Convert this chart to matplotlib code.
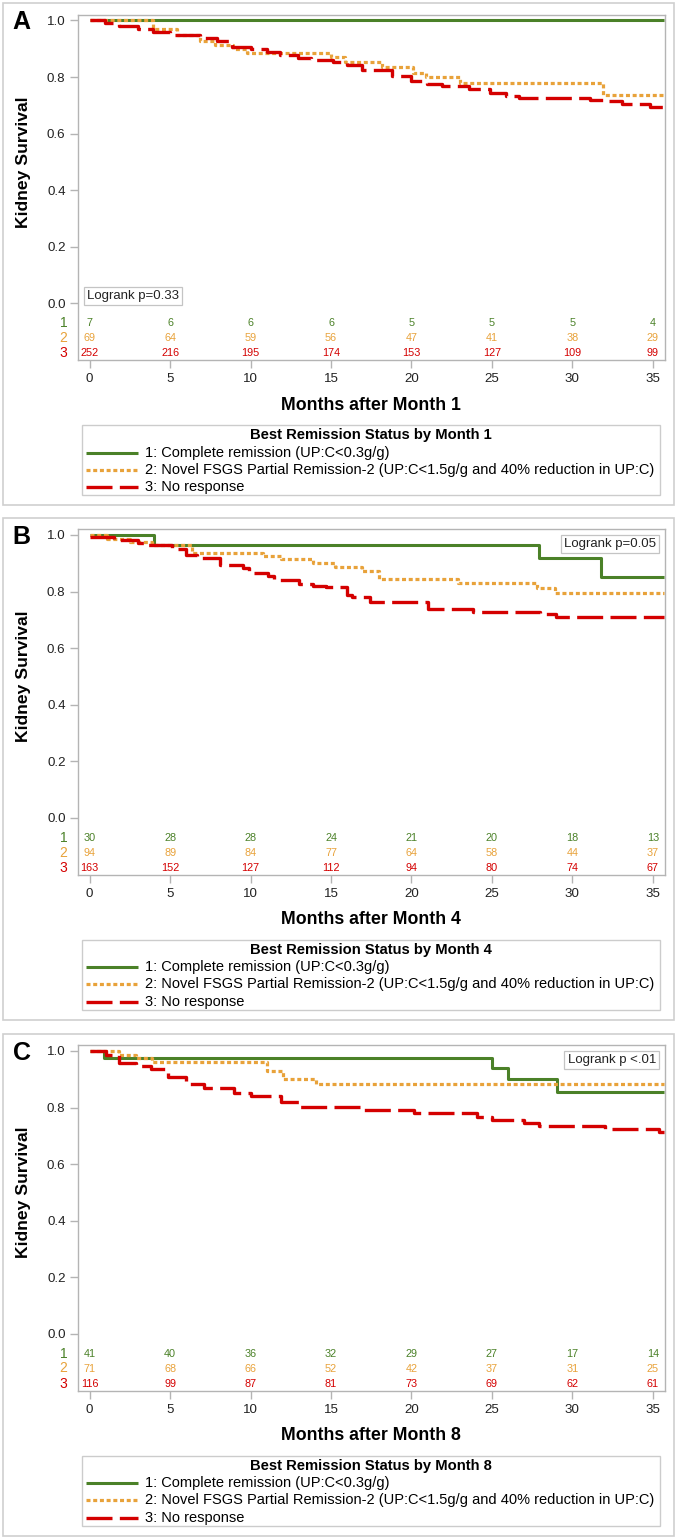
import matplotlib
matplotlib.use('Agg')
import matplotlib.pyplot as plt
from matplotlib.lines import Line2D
from matplotlib.patches import Rectangle

plt.rcParams['font.family'] = ['Liberation Sans', 'DejaVu Sans']

# ---------------- data ----------------
panel_letters = ['A', 'B', 'C']
month_labels = ['Months after Month 1', 'Months after Month 4', 'Months after Month 8']
legend_titles = ['Best Remission Status by Month 1', 'Best Remission Status by Month 4',
                 'Best Remission Status by Month 8']
logrank_texts = ['Logrank p=0.33', 'Logrank p=0.05', 'Logrank p <.01']
group_ids = ['1', '2', '3']
group_names = ['1: Complete remission (UP:C<0.3g/g)',
               '2: Novel FSGS Partial Remission-2 (UP:C<1.5g/g and 40% reduction in UP:C)',
               '3: No response']
risk_times = [0, 5, 10, 15, 20, 25, 30, 35]
x_ticks = [0, 5, 10, 15, 20, 25, 30, 35]
y_ticks = [0.0, 0.2, 0.4, 0.6, 0.8, 1.0]
t_end = 35.7

# Panel A (Month 1)
A_g1_t = [0]
A_g1_s = [1.0]
A_g2_t = [0, 3.92, 5.4, 6.85, 7.8, 8.9, 9.8, 15.0, 15.9, 18.15, 20.1, 20.9, 23.0, 31.9]
A_g2_s = [1.0, 0.970, 0.947, 0.927, 0.913, 0.898, 0.885, 0.870, 0.852, 0.834, 0.814, 0.800, 0.779, 0.736]
A_g3_t = [0, 0.95, 1.85, 3.0, 3.95, 5.0, 6.85, 7.9, 8.85, 10.05, 11.0, 11.85, 12.95, 13.75, 15.1,
          16.0, 16.9, 18.8, 20.0, 20.95, 21.9, 23.6, 24.9, 25.9, 26.7, 31.1, 32.1, 33.1, 34.8]
A_g3_s = [1.0, 0.991, 0.981, 0.971, 0.959, 0.950, 0.938, 0.927, 0.907, 0.898, 0.887, 0.879, 0.869,
          0.862, 0.852, 0.843, 0.825, 0.805, 0.785, 0.775, 0.767, 0.758, 0.742, 0.732, 0.727, 0.720,
          0.714, 0.706, 0.694]
A_risk1 = [7, 6, 6, 6, 5, 5, 5, 4]
A_risk2 = [69, 64, 59, 56, 47, 41, 38, 29]
A_risk3 = [252, 216, 195, 174, 153, 127, 109, 99]

# Panel B (Month 4)
B_g1_t = [0, 4.0, 27.95, 31.8]
B_g1_s = [1.0, 0.965, 0.918, 0.853]
B_g2_t = [0, 1.06, 2.5, 3.86, 6.34, 10.8, 11.9, 13.9, 15.25, 16.9, 18.0, 22.9, 27.8, 28.9]
B_g2_s = [1.0, 0.985, 0.975, 0.965, 0.935, 0.926, 0.914, 0.900, 0.888, 0.873, 0.843, 0.829, 0.811, 0.796]
B_g3_t = [0, 1.5, 3.0, 3.65, 5.1, 6.0, 6.65, 8.1, 9.55, 9.9, 11.1, 11.45, 13.0, 13.9, 14.7, 16.0,
          16.3, 17.4, 21.0, 23.85, 28.0, 29.0]
B_g3_s = [0.994, 0.982, 0.971, 0.965, 0.949, 0.929, 0.918, 0.894, 0.882, 0.867, 0.855, 0.841, 0.826,
          0.820, 0.815, 0.788, 0.782, 0.764, 0.737, 0.729, 0.719, 0.709]
B_risk1 = [30, 28, 28, 24, 21, 20, 18, 13]
B_risk2 = [94, 89, 84, 77, 64, 58, 44, 37]
B_risk3 = [163, 152, 127, 112, 94, 80, 74, 67]

# Panel C (Month 8)
C_g1_t = [0, 0.87, 25.0, 26.0, 29.05]
C_g1_s = [1.0, 0.974, 0.939, 0.901, 0.854]
C_g2_t = [0, 1.8, 2.9, 3.85, 11.0, 12.0, 14.05]
C_g2_s = [1.0, 0.986, 0.974, 0.961, 0.929, 0.900, 0.882]
C_g3_t = [0, 1.0, 1.8, 2.9, 3.8, 4.9, 6.0, 7.1, 9.0, 10.0, 11.9, 13.0, 17.0, 20.15, 24.1, 25.0,
          27.0, 27.9, 32.0, 35.4]
C_g3_s = [1.0, 0.986, 0.958, 0.948, 0.938, 0.908, 0.882, 0.868, 0.850, 0.841, 0.821, 0.802, 0.792,
          0.780, 0.768, 0.757, 0.745, 0.734, 0.725, 0.712]
C_risk1 = [41, 40, 36, 32, 29, 27, 17, 14]
C_risk2 = [71, 68, 66, 52, 42, 37, 31, 25]
C_risk3 = [116, 99, 87, 81, 73, 69, 62, 61]

panels = [
    ([(A_g1_t, A_g1_s), (A_g2_t, A_g2_s), (A_g3_t, A_g3_s)], [A_risk1, A_risk2, A_risk3]),
    ([(B_g1_t, B_g1_s), (B_g2_t, B_g2_s), (B_g3_t, B_g3_s)], [B_risk1, B_risk2, B_risk3]),
    ([(C_g1_t, C_g1_s), (C_g2_t, C_g2_s), (C_g3_t, C_g3_s)], [C_risk1, C_risk2, C_risk3]),
]

# ---------------- style ----------------
colors = ['#4b8128', '#e8a23a', '#d40000']
W, H, DPI = 677, 1539, 100
offsets = [0.0, 514.5, 1030.5]
logrank_pos = ['left', 'right', 'right']
frame_gray = '#b4b4b4'
text_col = '#222222'


def fx(px):
    return px / W


def fy(py):
    return 1.0 - py / H


def style_line(line, g):
    line.set_color(colors[g])
    line.set_solid_capstyle('butt')
    line.set_dash_capstyle('butt')
    if g == 0:
        line.set_linewidth(2.2)
    elif g == 1:
        line.set_linewidth(2.3)
        line.set_dashes((1.25, 0.85))
    else:
        line.set_linewidth(2.4)
        line.set_dashes((7.8, 2.2))


fig = plt.figure(figsize=(W / DPI, H / DPI), dpi=DPI)

for p, (curves, risks) in enumerate(panels):
    off = offsets[p]
    # outer panel box
    fig.add_artist(Rectangle((fx(3), fy(505 + off)), fx(674) - fx(3), (505 - 3) / H,
                             transform=fig.transFigure, fill=False, ec='#cfcfcf', lw=1.2))
    ax_top, ax_bot = 14.8 + off, 360.1 + off
    ax = fig.add_axes([fx(78), fy(ax_bot), fx(664.5) - fx(78), (ax_bot - ax_top) / H])
    ax.set_xlim(-0.72, 35.72)
    ax.set_ylim(-0.2, 1.02)
    for sp in ax.spines.values():
        sp.set_color(frame_gray)
        sp.set_linewidth(1.0)
    ax.set_xticks(x_ticks)
    ax.set_xticklabels([str(v) for v in x_ticks])
    ax.set_yticks(y_ticks)
    ax.set_yticklabels(['%.1f' % v for v in y_ticks])
    ax.tick_params(axis='both', colors=frame_gray, labelcolor=text_col, labelsize=9.6,
                   length=6, width=1.0, pad=3)
    ax.tick_params(axis='x', pad=3.5)

    for g, (t, s) in enumerate(curves):
        tt = list(t) + [t_end]
        ss = list(s) + [s[-1]]
        line, = ax.step(tt, ss, where='post', zorder=3 + g)
        style_line(line, g)

    # at-risk table
    row_y = [-0.069, -0.122, -0.175]
    for g in range(3):
        for tm, n in zip(risk_times, risks[g]):
            ax.text(tm, row_y[g], str(n), ha='center', va='center', fontsize=7.8,
                    color=colors[g])
        fig.text(fx(63.6), fy(323 + 15 * g + off), group_ids[g], ha='center', va='center',
                 fontsize=10, color=colors[g])

    # logrank box
    bb = dict(boxstyle='square,pad=0.25', fc='white', ec='#c4c4c4', lw=0.9)
    if logrank_pos[p] == 'left':
        fig.text(fx(87), fy(296 + off), logrank_texts[p], ha='left', va='center',
                 fontsize=9.5, color=text_col, bbox=bb)
    else:
        fig.text(fx(656), fy(29.5 + off), logrank_texts[p], ha='right', va='center',
                 fontsize=9.5, color=text_col, bbox=bb)

    # labels
    fig.text(fx(371), fy(405 + off), month_labels[p], ha='center', va='center',
             fontsize=12.8, fontweight='bold', color='black')
    fig.text(fx(24), fy(162 + off), 'Kidney Survival', ha='center', va='center',
             rotation=90, fontsize=12.6, fontweight='bold', color='black')
    fig.text(fx(21.5), fy(22 + off), panel_letters[p], ha='center', va='center',
             fontsize=18, fontweight='bold', color='black',
             family=['Liberation Sans Narrow', 'Liberation Sans', 'DejaVu Sans'])

    # legend
    fig.add_artist(Rectangle((fx(82), fy(495 + off)), fx(660) - fx(82), (495 - 425) / H,
                             transform=fig.transFigure, fill=False, ec='#cccccc', lw=1.0))
    fig.text(fx(371), fy(435.5 + off), legend_titles[p], ha='center', va='center',
             fontsize=10.6, fontweight='bold', color='black')
    for g in range(3):
        yy = fy(452.5 + 17.3 * g + off)
        ln = Line2D([fx(86), fx(138)], [yy, yy], transform=fig.transFigure)
        style_line(ln, g)
        fig.add_artist(ln)
        fig.text(fx(145), yy, group_names[g], ha='left', va='center', fontsize=10.5,
                 color='black')

fig.savefig('out.png', dpi=DPI)
